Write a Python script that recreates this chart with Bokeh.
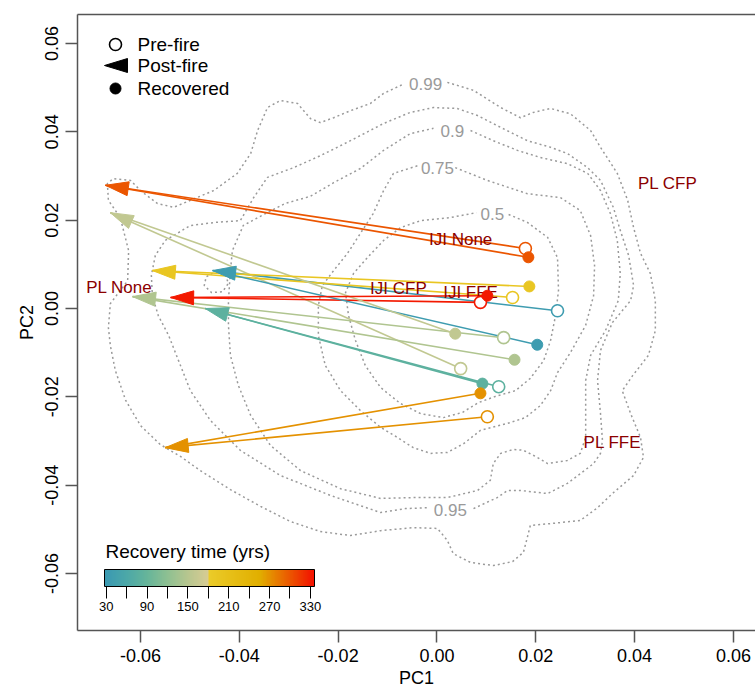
import numpy as np
from bokeh.plotting import figure
from bokeh.models import (Range1d, LinearAxis, FixedTicker, PrintfTickFormatter,
                          ColorBar, LinearColorMapper, ColumnDataSource)
from bokeh.core.properties import value
from bokeh.embed import file_html
from bokeh.resources import INLINE

# ---------------- data ----------------
recovery = [35, 80, 145, 160, 195, 270, 300, 330]
pre_x  = [0.0244, 0.0125, 0.0135, 0.0048, 0.0153, 0.0102, 0.0179, 0.0088]
pre_y  = [-0.0005, -0.0177, -0.0066, -0.0136, 0.0025, -0.0245, 0.0136, 0.0014]
post_x = [-0.0454, -0.0469, -0.0616, -0.0661, -0.0576, -0.0550, -0.0671, -0.0539]
post_y = [0.0086, 0.0000, 0.0027, 0.0217, 0.0086, -0.0315, 0.0279, 0.0025]
rec_x  = [0.0203, 0.0092, 0.0157, 0.0037, 0.0187, 0.0088, 0.0185, 0.0102]
rec_y  = [-0.0082, -0.0170, -0.0116, -0.0057, 0.0050, -0.0192, 0.0116, 0.0029]

group_labels = ["PL CFP", "IJI None", "IJI CFP", "IJI FFE", "PL None", "PL FFE"]
group_x = [0.0467, 0.0048, -0.0078, 0.0068, -0.0643, 0.0355]
group_y = [0.0283, 0.0156, 0.0045, 0.0036, 0.0048, -0.0303]

level_labels = ["0.99", "0.95", "0.9", "0.75", "0.5"]
level_x = [-0.0023, 0.0027, 0.0031, 0.0001, 0.0112]
level_y = [0.0509, -0.0457, 0.0403, 0.0319, 0.0215]

c99_x = [0.0021, 0.0074, 0.0129, 0.0169, 0.0195, 0.0230, 0.0270, 0.0311, 0.0331, 0.0365,
         0.0386, 0.0398, 0.0412, 0.0432, 0.0442, 0.0442, 0.0428, 0.0396, 0.0375, 0.0392,
         0.0412, 0.0418, 0.0398, 0.0357, 0.0325, 0.0290, 0.0230, 0.0189, 0.0183, 0.0175,
         0.0153, 0.0114, 0.0068, 0.0033, 0.0021, 0.0001, -0.0048, -0.0114, -0.0175, -0.0236,
         -0.0297, -0.0357, -0.0418, -0.0479, -0.0519, -0.0560, -0.0600, -0.0630, -0.0651, -0.0661,
         -0.0665, -0.0661, -0.0626, -0.0624, -0.0641, -0.0665, -0.0667, -0.0655, -0.0620, -0.0600,
         -0.0566, -0.0533, -0.0499, -0.0452, -0.0404, -0.0377, -0.0363, -0.0343, -0.0317, -0.0282,
         -0.0256, -0.0236, -0.0209, -0.0175, -0.0135, -0.0108, -0.0070]
c99_y = [0.0512, 0.0494, 0.0455, 0.0432, 0.0444, 0.0453, 0.0441, 0.0403, 0.0365, 0.0306,
         0.0245, 0.0183, 0.0125, 0.0079, 0.0018, -0.0050, -0.0106, -0.0152, -0.0186, -0.0238,
         -0.0292, -0.0337, -0.0378, -0.0417, -0.0451, -0.0480, -0.0487, -0.0491, -0.0518, -0.0552,
         -0.0573, -0.0582, -0.0575, -0.0555, -0.0525, -0.0498, -0.0496, -0.0503, -0.0514, -0.0505,
         -0.0482, -0.0448, -0.0410, -0.0367, -0.0335, -0.0308, -0.0265, -0.0208, -0.0140, -0.0084,
         -0.0043, 0.0011, 0.0063, 0.0131, 0.0206, 0.0245, 0.0283, 0.0294, 0.0290, 0.0267,
         0.0238, 0.0229, 0.0245, 0.0267, 0.0306, 0.0351, 0.0403, 0.0455, 0.0471, 0.0464,
         0.0430, 0.0421, 0.0432, 0.0448, 0.0464, 0.0487, 0.0507]

c95_x = [0.0074, 0.0122, 0.0143, 0.0169, 0.0224, 0.0264, 0.0290, 0.0317, 0.0331, 0.0335,
         0.0331, 0.0325, 0.0331, 0.0355, 0.0392, 0.0398, 0.0388, 0.0371, 0.0357, 0.0331,
         0.0305, 0.0264, 0.0230, 0.0183, 0.0129, 0.0082, 0.0041, -0.0007, -0.0054, -0.0108,
         -0.0175, -0.0236, -0.0290, -0.0343, -0.0371, -0.0398, -0.0448, -0.0499, -0.0550, -0.0570,
         -0.0578, -0.0576, -0.0564, -0.0543, -0.0523, -0.0499, -0.0458, -0.0398, -0.0317, -0.0216,
         -0.0114, -0.0064, -0.0019]
c95_y = [-0.0453, -0.0428, -0.0412, -0.0412, -0.0419, -0.0396, -0.0374, -0.0351, -0.0328, -0.0299,
         -0.0238, -0.0163, -0.0095, -0.0032, 0.0018, 0.0052, 0.0120, 0.0177, 0.0229, 0.0290,
         0.0319, 0.0351, 0.0365, 0.0380, 0.0410, 0.0437, 0.0453, 0.0455, 0.0444, 0.0419,
         0.0380, 0.0346, 0.0319, 0.0297, 0.0251, 0.0199, 0.0195, 0.0188, 0.0154, 0.0120,
         0.0075, 0.0029, -0.0016, -0.0061, -0.0118, -0.0186, -0.0254, -0.0321, -0.0378, -0.0423,
         -0.0462, -0.0453, -0.0451]

c90_x = [0.0068, 0.0114, 0.0163, 0.0209, 0.0264, 0.0305, 0.0331, 0.0351, 0.0365, 0.0371,
         0.0367, 0.0341, 0.0311, 0.0301, 0.0301, 0.0290, 0.0264, 0.0224, 0.0203, 0.0175,
         0.0155, 0.0129, 0.0114, 0.0108, 0.0082, 0.0021, -0.0048, -0.0114, -0.0195, -0.0276,
         -0.0337, -0.0377, -0.0402, -0.0418, -0.0422, -0.0422, -0.0418, -0.0414, -0.0392, -0.0347,
         -0.0307, -0.0256, -0.0209, -0.0155, -0.0108, -0.0054, -0.0007]
c90_y = [0.0403, 0.0380, 0.0358, 0.0342, 0.0328, 0.0306, 0.0267, 0.0215, 0.0154, 0.0079,
         0.0018, -0.0050, -0.0106, -0.0163, -0.0292, -0.0328, -0.0344, -0.0351, -0.0337, -0.0321,
         -0.0319, -0.0328, -0.0351, -0.0389, -0.0412, -0.0428, -0.0428, -0.0430, -0.0408, -0.0367,
         -0.0310, -0.0242, -0.0174, -0.0106, -0.0038, 0.0018, 0.0086, 0.0131, 0.0188, 0.0215,
         0.0238, 0.0254, 0.0285, 0.0317, 0.0358, 0.0396, 0.0408]

c90b_x = [-0.0448, -0.0428, -0.0422, -0.0434, -0.0456, -0.0471, -0.0467, -0.0448]
c90b_y = [0.0084, 0.0075, 0.0057, 0.0038, 0.0036, 0.0052, 0.0072, 0.0084]

c75_x = [0.0037, 0.0102, 0.0183, 0.0250, 0.0290, 0.0311, 0.0319, 0.0317, 0.0301, 0.0270,
         0.0244, 0.0230, 0.0209, 0.0179, 0.0143, 0.0088, 0.0054, 0.0021, -0.0013, -0.0048,
         -0.0080, -0.0114, -0.0155, -0.0195, -0.0226, -0.0240, -0.0240, -0.0232, -0.0209, -0.0181,
         -0.0155, -0.0129, -0.0108, -0.0088, -0.0037]
c75_y = [0.0319, 0.0290, 0.0260, 0.0251, 0.0222, 0.0165, 0.0097, 0.0029, -0.0038, -0.0100,
         -0.0145, -0.0186, -0.0220, -0.0247, -0.0260, -0.0276, -0.0306, -0.0326, -0.0328, -0.0315,
         -0.0292, -0.0269, -0.0231, -0.0186, -0.0129, -0.0061, 0.0007, 0.0052, 0.0086, 0.0125,
         0.0170, 0.0215, 0.0267, 0.0306, 0.0324]

c50_x = [0.0145, 0.0183, 0.0224, 0.0244, 0.0246, 0.0240, 0.0230, 0.0216, 0.0189, 0.0159,
         0.0118, 0.0084, 0.0052, 0.0013, -0.0033, -0.0074, -0.0114, -0.0145, -0.0165, -0.0179,
         -0.0185, -0.0169, -0.0141, -0.0108, -0.0074, -0.0033, 0.0027, 0.0080]
c50_y = [0.0213, 0.0195, 0.0161, 0.0115, 0.0041, -0.0016, -0.0072, -0.0118, -0.0158, -0.0186,
         -0.0199, -0.0213, -0.0235, -0.0247, -0.0238, -0.0215, -0.0179, -0.0129, -0.0072, -0.0016,
         0.0036, 0.0079, 0.0115, 0.0154, 0.0183, 0.0199, 0.0206, 0.0217]

x_ticks = [-0.06, -0.04, -0.02, 0.0, 0.02, 0.04, 0.06]
y_ticks = [-0.06, -0.04, -0.02, 0.0, 0.02, 0.04, 0.06]
cbar_ticks = [30, 90, 150, 210, 270, 330]
cbar_minor = [60, 120, 180, 240, 300]
cbar_title = "Recovery time (yrs)"
legend_labels = ["Pre-fire", "Post-fire", "Recovered"]

# ---------------- layout / styles ----------------
W, H = 755, 695
BL, BR, BT, BB = 77, 0, 14, 65
X0, X1 = -0.07275, 0.06447
Y0, Y1 = -0.0729, 0.06657
FONT = "Liberation Sans"

# palette (two ramps with a break at 180)
low, high = 27.5, 336.0
anchors_a = [(30, (59, 154, 178)), (60, (76, 168, 168)), (90, (102, 181, 154)),
             (120, (142, 192, 146)), (150, (183, 198, 143)), (180, (216, 204, 148))]
anchors_b = [(180, (235, 204, 42)), (255, (225, 175, 0)), (330, (242, 26, 0)), (345, (255, 0, 0))]

def interp(v, anchors):
    if v <= anchors[0][0]:
        return anchors[0][1]
    for (v0, c0), (v1, c1) in zip(anchors[:-1], anchors[1:]):
        if v <= v1:
            t = (v - v0) / (v1 - v0)
            return tuple(int(round(a + (b - a) * t)) for a, b in zip(c0, c1))
    return anchors[-1][1]

n_col = 256
palette = []
for i in range(n_col):
    v = low + (high - low) * (i + 0.5) / n_col
    c = interp(v, anchors_a) if v < 180 else interp(v, anchors_b)
    palette.append("#%02x%02x%02x" % c)

mapper = LinearColorMapper(palette=palette, low=low, high=high)
cmap = {"field": "t", "transform": mapper}

p = figure(width=W, height=H, x_range=Range1d(X0, X1), y_range=Range1d(Y0, Y1),
           output_backend="svg", toolbar_location=None, title=None,
           min_border_left=BL, min_border_right=BR, min_border_top=BT, min_border_bottom=BB,
           x_axis_location=None, y_axis_location=None)
p.outline_line_color = None
p.background_fill_color = "white"
p.border_fill_color = "white"
p.xgrid.visible = False
p.ygrid.visible = False

AX_COL = "#555555"

def style_axis(ax, ticks, label):
    ax.ticker = FixedTicker(ticks=ticks)
    ax.formatter = PrintfTickFormatter(format="%.2f")
    ax.axis_line_color = AX_COL
    ax.axis_line_width = 1.5
    ax.major_tick_line_color = AX_COL
    ax.major_tick_line_width = 1.5
    ax.major_tick_out = 12
    ax.major_tick_in = 0
    ax.minor_tick_line_color = None
    ax.major_label_text_font = FONT
    ax.major_label_text_font_size = "18px"
    ax.major_label_text_color = "black"
    ax.axis_label = label
    ax.axis_label_text_font = FONT
    ax.axis_label_text_font_size = "18px"
    ax.axis_label_text_font_style = "normal"
    ax.axis_label_text_color = "black"

xax = LinearAxis()
style_axis(xax, x_ticks, "PC1")
xax.major_label_standoff = 6
xax.axis_label_standoff = 3
p.add_layout(xax, "below")

yax = LinearAxis()
style_axis(yax, y_ticks, "PC2")
yax.major_label_orientation = "vertical"
yax.major_label_standoff = 7
yax.axis_label_standoff = 6
p.add_layout(yax, "left")

tax = LinearAxis(ticker=FixedTicker(ticks=[]), axis_line_color=AX_COL, axis_line_width=1.5,
                 major_tick_line_color=None, minor_tick_line_color=None,
                 major_label_text_font_size="0px", major_tick_out=0, major_tick_in=0,
                 major_label_standoff=0)
p.add_layout(tax, "above")

# ---------------- contours ----------------
CCOL = "#9a9a9a"
for cx, cy in [(c99_x, c99_y), (c95_x, c95_y), (c90_x, c90_y), (c90b_x, c90b_y),
               (c75_x, c75_y), (c50_x, c50_y)]:
    p.line(cx, cy, line_color=CCOL, line_width=1.5, line_dash="2 3")

p.text(x=level_x, y=level_y, text=level_labels, text_color=CCOL,
       text_font=value(FONT), text_font_size=value("17px"),
       text_align="center", text_baseline="middle")

# ---------------- trajectories ----------------
fw = W - BL - BR
fh = H - BT - BB
sx = fw / (X1 - X0)
sy = fh / (Y1 - Y0)

def head(tx, ty, fx, fy, L=23.0, HW=7.0):
    dx = (tx - fx) * sx
    dy = (ty - fy) * sy
    n = np.hypot(dx, dy)
    ux, uy = dx / n, dy / n
    bx, by = -ux * L, -uy * L
    nx, ny = -uy * HW, ux * HW
    xs = [tx, tx + (bx + nx) / sx, tx + (bx - nx) / sx]
    ys = [ty, ty + (by + ny) / sy, ty + (by - ny) / sy]
    return xs, ys

hx, hy = [], []
for i in range(len(recovery)):
    a, b = head(post_x[i], post_y[i], pre_x[i], pre_y[i])
    hx.append(a)
    hy.append(b)

src = ColumnDataSource(dict(t=recovery, px=pre_x, py=pre_y, qx=post_x, qy=post_y,
                            rx=rec_x, ry=rec_y, hx=hx, hy=hy))

p.segment(x0="px", y0="py", x1="qx", y1="qy", source=src, line_color=cmap, line_width=1.6)
p.segment(x0="qx", y0="qy", x1="rx", y1="ry", source=src, line_color=cmap, line_width=1.6)
p.patches(xs="hx", ys="hy", source=src, fill_color=cmap, line_color=cmap, line_width=1)

p.text(x=group_x, y=group_y, text=group_labels, text_color="#8B0000",
       text_font=value(FONT), text_font_size=value("17px"),
       text_align="center", text_baseline="middle")

p.scatter(x="px", y="py", source=src, marker="circle", size=12, fill_color="white",
          line_color=cmap, line_width=1.6)
p.scatter(x="rx", y="ry", source=src, marker="circle", size=11, fill_color=cmap,
          line_color=cmap, line_width=1)

# ---------------- legend (drawn in plot space) ----------------
lg_mx = X0 + (115 - BL) / sx
lg_tx = X0 + (137 - BL) / sx
lg_y = [Y1 - (44 - BT) / sy, Y1 - (65 - BT) / sy, Y1 - (88 - BT) / sy]
p.scatter([lg_mx], [lg_y[0]], marker="circle", size=12, fill_color="white",
          line_color="black", line_width=1.6)
tip_x = X0 + (104 - BL) / sx
lxs, lys = head(tip_x, lg_y[1], tip_x + 0.01, lg_y[1])
p.patch(lxs, lys, fill_color="black", line_color="black")
p.scatter([lg_mx], [lg_y[2]], marker="circle", size=11, fill_color="black", line_color="black")
p.text(x=[lg_tx] * 3, y=lg_y, text=legend_labels, text_color="black",
       text_font=value(FONT), text_font_size=value("19px"),
       text_align="left", text_baseline="middle")

# ---------------- colour bar ----------------
cb = ColorBar(color_mapper=mapper, orientation="horizontal", location=(27, 17),
              width=210, height=17, padding=0,
              ticker=FixedTicker(ticks=cbar_ticks, minor_ticks=cbar_minor),
              major_label_text_font=FONT, major_label_text_font_size="13px",
              major_label_text_color="black", label_standoff=3,
              major_tick_out=12, major_tick_in=0, major_tick_line_color="black",
              minor_tick_out=12, minor_tick_in=0, minor_tick_line_color="black",
              bar_line_color="black", bar_line_width=1,
              background_fill_color=None, border_line_color=None)
p.add_layout(cb)

cbt_x = X0 + (105 - BL) / sx
cbt_y = Y1 - (551 - BT) / sy
p.text(x=[cbt_x], y=[cbt_y], text=[cbar_title], text_color="black",
       text_font=value(FONT), text_font_size=value("19px"),
       text_align="left", text_baseline="middle")

open("out.html", "w").write(file_html(p, INLINE))
